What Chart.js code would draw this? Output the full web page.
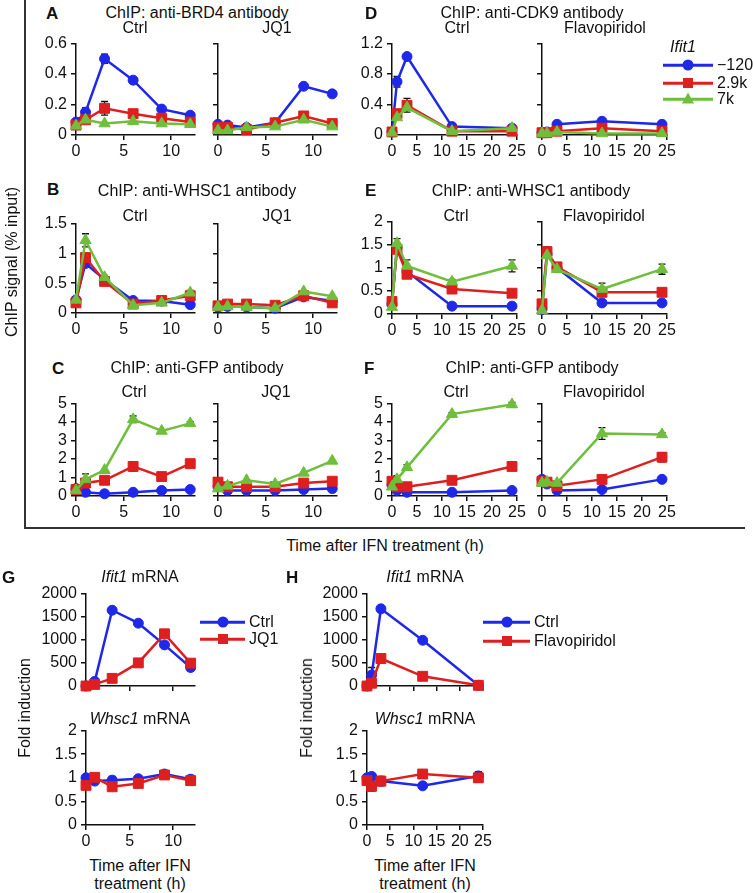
<!DOCTYPE html>
<html>
<head>
<meta charset="utf-8">
<script src="https://cdn.jsdelivr.net/npm/chart.js@4.4.1/dist/chart.umd.min.js"></script>
<style>
  body { margin: 0; background: #fff; font-family: "Liberation Sans", Arial, sans-serif; color: #111; }
  #fig { position: relative; width: 753px; height: 893px; overflow: hidden; }
  #fig canvas { position: absolute; }
  .t { position: absolute; font-size: 16px; white-space: nowrap; line-height: 1; transform: translate(-50%, -50%); }
  .lt { position: absolute; font-size: 16px; white-space: nowrap; line-height: 1; transform: translateY(-50%); }
  .big { position: absolute; font-size: 17px; font-weight: bold; line-height: 1; transform: translateY(-50%); }
  .rot { position: absolute; font-size: 16px; white-space: nowrap; line-height: 1; transform: translate(-50%, -50%) rotate(-90deg); }
  .line { position: absolute; height: 2.5px; transform: translateY(-50%); }
  .mk { position: absolute; transform: translate(-50%, -50%); }
</style>
</head>
<body>
<div id="fig"></div>
<script>
// time points (h)
const timesJQ1 = [0, 1, 3, 6, 9, 12];
const timesFlavo = [0, 1, 3, 12, 24];

// ChIP series, rows: -120, 2.9k, 7k
const brd4Ctrl = [[0.085, 0.15, 0.5, 0.36, 0.17, 0.13], [0.065, 0.1, 0.175, 0.14, 0.11, 0.085], [0.06, 0.1, 0.075, 0.09, 0.075, 0.07]];
const brd4CtrlErr = [[0, 0.03, 0.03, 0.01, 0, 0], [0, 0, 0.045, 0, 0, 0], [0, 0, 0, 0, 0, 0]];
const brd4JQ1 = [[0.07, 0.065, 0.05, 0.08, 0.32, 0.27], [0.05, 0.05, 0.035, 0.08, 0.125, 0.075], [0.03, 0.03, 0.05, 0.055, 0.1, 0.055]];

const cdk9Ctrl = [[0.04, 0.7, 1.03, 0.11, 0.09], [0.04, 0.28, 0.39, 0.05, 0.05], [0.03, 0.23, 0.36, 0.05, 0.09]];
const cdk9CtrlErr = [[0, 0.07, 0.03, 0, 0], [0, 0, 0.09, 0, 0], [0, 0, 0, 0, 0]];
const cdk9Flavo = [[0.03, 0.04, 0.14, 0.18, 0.14], [0.03, 0.03, 0.05, 0.09, 0.05], [0.02, 0.02, 0.04, 0.02, 0.02]];

const whscJQ1Ctrl = [[0.22, 0.83, 0.56, 0.21, 0.2, 0.14], [0.17, 0.93, 0.53, 0.15, 0.21, 0.29], [0.22, 1.22, 0.6, 0.13, 0.17, 0.34]];
const whscJQ1CtrlErr = [[0, 0, 0, 0, 0, 0], [0, 0.07, 0, 0, 0, 0], [0, 0.11, 0.03, 0, 0, 0.04]];
const whscJQ1 = [[0.1, 0.11, 0.1, 0.08, 0.27, 0.2], [0.12, 0.15, 0.15, 0.13, 0.29, 0.17], [0.1, 0.11, 0.1, 0.08, 0.36, 0.28]];

const whscFlCtrl = [[0.22, 1.45, 0.92, 0.17, 0.17], [0.27, 1.4, 0.86, 0.54, 0.45], [0.15, 1.53, 1.04, 0.7, 1.04]];
const whscFlCtrlErr = [[0, 0, 0, 0, 0], [0, 0, 0, 0, 0], [0, 0.1, 0.13, 0.05, 0.13]];
const whscFlavo = [[0.1, 1.3, 1.0, 0.24, 0.24], [0.22, 1.35, 1.02, 0.47, 0.47], [0.08, 1.27, 0.97, 0.54, 0.97]];
const whscFlavoErr = [[0, 0, 0, 0, 0], [0, 0.1, 0, 0, 0], [0, 0, 0, 0.13, 0.11]];

const gfpJQ1Ctrl = [[0.4, 0.2, 0.12, 0.2, 0.3, 0.35], [0.35, 0.7, 0.85, 1.6, 1.05, 1.75], [0.3, 0.9, 1.4, 4.15, 3.52, 3.93]];
const gfpJQ1CtrlErr = [[0, 0, 0, 0, 0, 0], [0, 0, 0, 0.25, 0, 0], [0, 0.3, 0, 0.18, 0, 0.1]];
const gfpJQ1 = [[0.5, 0.3, 0.3, 0.3, 0.35, 0.4], [0.75, 0.5, 0.5, 0.5, 0.7, 0.8], [0.4, 0.55, 0.85, 0.65, 1.25, 1.9]];

const gfpFlCtrl = [[0.6, 0.3, 0.2, 0.2, 0.3], [0.8, 0.5, 0.5, 0.85, 1.6], [0.5, 0.9, 1.55, 4.43, 4.95]];
const gfpFlCtrlErr = [[0, 0, 0, 0, 0], [0, 0, 0, 0, 0], [0, 0.2, 0.15, 0.08, 0.12]];
const gfpFlavo = [[0.9, 0.65, 0.3, 0.35, 0.9], [0.8, 0.75, 0.55, 0.9, 2.1], [0.7, 0.75, 0.7, 3.38, 3.33]];
const gfpFlavoErr = [[0, 0, 0, 0, 0], [0, 0, 0, 0, 0.25], [0, 0, 0, 0.32, 0.1]];

// mRNA fold induction, rows: Ctrl, treatment
const ifitJQ1 = [[0, 100, 1640, 1360, 890, 400], [0, 35, 165, 500, 1130, 495]];
const ifitJQ1Err = [[0, 0, 0, 0, 0, 70], [0, 0, 0, 0, 0, 0]];
const whscMrnaJQ1 = [[1.0, 0.93, 0.95, 0.98, 1.08, 0.97], [0.84, 1.01, 0.81, 0.88, 1.06, 0.94]];
const whscMrnaJQ1Err = [[0, 0, 0.08, 0, 0, 0.08], [0, 0, 0.07, 0, 0, 0.07]];
const ifitFlavo = [[0, 240, 1670, 990, 15], [0, 60, 595, 210, 15]];
const ifitFlavoErr = [[0, 160, 0, 0, 0], [0, 0, 0, 0, 0]];
const whscMrnaFlavo = [[1.0, 1.03, 0.93, 0.83, 1.04], [0.94, 0.82, 0.93, 1.08, 1.0]];
const whscMrnaFlavoErr = [[0, 0.05, 0, 0, 0.09], [0, 0.1, 0.1, 0, 0.09]];

const probeNames = ["\u2212120", "2.9k", "7k"];
const BLUE = "#1f28e8", RED = "#de1f1f", GREEN = "#6fbe3c";

Chart.defaults.font.family = '"Liberation Sans", Arial, sans-serif';
Chart.defaults.color = "#111";

const fig = document.getElementById("fig");

const errorBars = {
  id: "errorBars",
  beforeDatasetsDraw(chart) {
    const { ctx, scales: { x, y } } = chart;
    ctx.save();
    ctx.strokeStyle = "#111";
    ctx.lineWidth = 1.3;
    chart.data.datasets.forEach((ds) => {
      if (!ds.errors) return;
      ds.data.forEach((p, i) => {
        const e = ds.errors[i];
        if (!e) return;
        const px = x.getPixelForValue(p.x);
        const top = y.getPixelForValue(p.y + e);
        const bot = y.getPixelForValue(Math.max(0, p.y - e));
        ctx.beginPath();
        ctx.moveTo(px, top); ctx.lineTo(px, bot);
        ctx.moveTo(px - 3.5, top); ctx.lineTo(px + 3.5, top);
        ctx.moveTo(px - 3.5, bot); ctx.lineTo(px + 3.5, bot);
        ctx.stroke();
      });
    });
    ctx.restore();
  },
};

const PAD_T = 12, PAD_R = 16, AX_W = 52, AX_H = 30;
const fmt = (v) => String(+v.toFixed(2));

function panel(o) {
  const c = document.createElement("canvas");
  const cw = AX_W + o.w + PAD_R, ch = PAD_T + o.h + AX_H;
  c.width = cw; c.height = ch;
  c.style.left = o.left - AX_W + "px";
  c.style.top = o.top - PAD_T + "px";
  fig.appendChild(c);

  const styles = o.styles || ["circle", "rect", "triangle"];
  const colors = o.colors || [BLUE, RED, GREEN];
  const radii = { circle: 5, rect: 7, triangle: 6.5 };

  new Chart(c, {
    type: "line",
    data: {
      datasets: o.series.map((vals, k) => ({
        label: o.names[k],
        data: vals.map((v, i) => ({ x: o.times[i], y: v })),
        errors: o.errs ? o.errs[k] : null,
        borderColor: colors[k],
        backgroundColor: colors[k],
        pointBackgroundColor: colors[k],
        pointBorderColor: colors[k],
        borderWidth: 2.5,
        pointStyle: styles[k],
        pointRadius: radii[styles[k]],
        pointBorderWidth: 1,
        tension: 0,
        clip: false,
        order: o.series.length - k,
      })),
    },
    options: {
      responsive: false,
      animation: false,
      events: [],
      layout: { padding: { top: PAD_T, right: PAD_R, left: 0, bottom: 0 } },
      plugins: { legend: { display: false }, tooltip: { enabled: false } },
      scales: {
        x: {
          type: "linear", min: 0, max: o.xMax,
          afterFit: (s) => { s.height = AX_H; },
          border: { display: true, color: "#111", width: 1.5 },
          grid: { drawOnChartArea: false, drawTicks: true, tickLength: 5, color: "#111", lineWidth: 1.5 },
          ticks: {
            stepSize: 5, includeBounds: false, padding: 2, maxRotation: 0, autoSkip: false,
            font: { size: 16 },
            callback: (v) => (o.xLabels === false ? "" : fmt(v)),
          },
        },
        y: {
          min: 0, max: o.yMax,
          afterFit: (s) => { s.width = AX_W; },
          border: { display: true, color: "#111", width: 1.5 },
          grid: { drawOnChartArea: false, drawTicks: true, tickLength: 5, color: "#111", lineWidth: 1.5 },
          ticks: {
            stepSize: o.yStep, includeBounds: false, padding: 4, autoSkip: false,
            font: { size: 16 },
            callback: (v) => (o.yLabels === false ? "" : fmt(v)),
          },
        },
      },
    },
    plugins: [errorBars],
  });
}

// A
panel({ left: 76, top: 42, w: 119, h: 93, xMax: 12.5, yMax: 0.6, yStep: 0.2, times: timesJQ1, series: brd4Ctrl, errs: brd4CtrlErr, names: probeNames });
panel({ left: 218, top: 42, w: 119, h: 93, xMax: 12.5, yMax: 0.6, yStep: 0.2, times: timesJQ1, series: brd4JQ1, names: probeNames, yLabels: false });
// D
panel({ left: 392, top: 42, w: 125, h: 93, xMax: 25, yMax: 1.2, yStep: 0.4, times: timesFlavo, series: cdk9Ctrl, errs: cdk9CtrlErr, names: probeNames });
panel({ left: 542, top: 42, w: 125, h: 93, xMax: 25, yMax: 1.2, yStep: 0.4, times: timesFlavo, series: cdk9Flavo, names: probeNames, yLabels: false });
// B
panel({ left: 76, top: 222, w: 119, h: 91, xMax: 12.5, yMax: 1.5, yStep: 0.5, times: timesJQ1, series: whscJQ1Ctrl, errs: whscJQ1CtrlErr, names: probeNames });
panel({ left: 218, top: 222, w: 119, h: 91, xMax: 12.5, yMax: 1.5, yStep: 0.5, times: timesJQ1, series: whscJQ1, names: probeNames, yLabels: false });
// E
panel({ left: 392, top: 220, w: 125, h: 94, xMax: 25, yMax: 2, yStep: 0.5, times: timesFlavo, series: whscFlCtrl, errs: whscFlCtrlErr, names: probeNames });
panel({ left: 542, top: 220, w: 125, h: 94, xMax: 25, yMax: 2, yStep: 0.5, times: timesFlavo, series: whscFlavo, errs: whscFlavoErr, names: probeNames, yLabels: false });
// C
panel({ left: 76, top: 402, w: 119, h: 94, xMax: 12.5, yMax: 5, yStep: 1, times: timesJQ1, series: gfpJQ1Ctrl, errs: gfpJQ1CtrlErr, names: probeNames });
panel({ left: 218, top: 402, w: 119, h: 94, xMax: 12.5, yMax: 5, yStep: 1, times: timesJQ1, series: gfpJQ1, names: probeNames, yLabels: false });
// F
panel({ left: 392, top: 402, w: 125, h: 94, xMax: 25, yMax: 5, yStep: 1, times: timesFlavo, series: gfpFlCtrl, errs: gfpFlCtrlErr, names: probeNames });
panel({ left: 542, top: 402, w: 125, h: 94, xMax: 25, yMax: 5, yStep: 1, times: timesFlavo, series: gfpFlavo, errs: gfpFlavoErr, names: probeNames, yLabels: false });
// G
panel({ left: 86, top: 592, w: 109, h: 94, xMax: 12.5, yMax: 2000, yStep: 500, times: timesJQ1, series: ifitJQ1, errs: ifitJQ1Err, names: ["Ctrl", "JQ1"], styles: ["circle", "rect"], colors: [BLUE, RED], xLabels: false });
panel({ left: 86, top: 729, w: 109, h: 96, xMax: 12.5, yMax: 2, yStep: 0.5, times: timesJQ1, series: whscMrnaJQ1, errs: whscMrnaJQ1Err, names: ["Ctrl", "JQ1"], styles: ["circle", "rect"], colors: [BLUE, RED] });
// H
panel({ left: 367, top: 592, w: 116, h: 94, xMax: 25, yMax: 2000, yStep: 500, times: timesFlavo, series: ifitFlavo, errs: ifitFlavoErr, names: ["Ctrl", "Flavopiridol"], styles: ["circle", "rect"], colors: [BLUE, RED], xLabels: false });
panel({ left: 367, top: 729, w: 116, h: 96, xMax: 25, yMax: 2, yStep: 0.5, times: timesFlavo, series: whscMrnaFlavo, errs: whscMrnaFlavoErr, names: ["Ctrl", "Flavopiridol"], styles: ["circle", "rect"], colors: [BLUE, RED] });

// text and frame
function txt(cls, x, y, html) {
  const d = document.createElement("div");
  d.className = cls;
  d.style.left = x + "px";
  d.style.top = y + "px";
  d.innerHTML = html;
  fig.appendChild(d);
}
function box(x, y, w, h, color) {
  const d = document.createElement("div");
  d.style.cssText = `position:absolute;left:${x}px;top:${y}px;width:${w}px;height:${h}px;background:${color}`;
  fig.appendChild(d);
}

box(24, 0, 2, 529, "#333");
box(24, 527, 721, 2, "#333");
txt("rot", 12, 262, "ChIP signal (% input)");
txt("t", 385, 546, "Time after IFN treatment (h)");

txt("big", 46, 13, "A"); txt("t", 197, 13, "ChIP: anti-BRD4 antibody");
txt("t", 135, 28, "Ctrl"); txt("t", 277, 28, "JQ1");
txt("big", 365, 13, "D"); txt("t", 532, 13, "ChIP: anti-CDK9 antibody");
txt("t", 457, 28, "Ctrl"); txt("t", 605, 28, "Flavopiridol");
txt("big", 47, 189, "B"); txt("t", 197, 191, "ChIP: anti-WHSC1 antibody");
txt("t", 135, 216, "Ctrl"); txt("t", 277, 216, "JQ1");
txt("big", 365, 190, "E"); txt("t", 531, 191, "ChIP: anti-WHSC1 antibody");
txt("t", 456, 216, "Ctrl"); txt("t", 604, 216, "Flavopiridol");
txt("big", 52, 368, "C"); txt("t", 197, 368, "ChIP: anti-GFP antibody");
txt("t", 134, 392, "Ctrl"); txt("t", 276, 392, "JQ1");
txt("big", 364, 368, "F"); txt("t", 532, 368, "ChIP: anti-GFP antibody");
txt("t", 456, 392, "Ctrl"); txt("t", 604, 392, "Flavopiridol");

txt("big", 2, 577, "G"); txt("t", 140, 577, "<i>Ifit1</i> mRNA");
txt("t", 140, 719, "<i>Whsc1</i> mRNA");
txt("rot", 25, 708, "Fold induction");
txt("t", 140, 866, "Time after IFN"); txt("t", 140, 884, "treatment (h)");
txt("big", 286, 577, "H"); txt("t", 425, 577, "<i>Ifit1</i> mRNA");
txt("t", 425, 719, "<i>Whsc1</i> mRNA");
txt("rot", 307, 708, "Fold induction");
txt("t", 425, 866, "Time after IFN"); txt("t", 425, 884, "treatment (h)");

// legends
function legendRow(x0, x1, y, color, shape, label) {
  const l = document.createElement("div");
  l.className = "line";
  l.style.cssText += `left:${x0}px;top:${y}px;width:${x1 - x0}px;background:${color}`;
  fig.appendChild(l);
  const m = document.createElement("div");
  m.className = "mk";
  const cx = (x0 + x1) / 2;
  if (shape === "circle") m.style.cssText += `left:${cx}px;top:${y}px;width:11px;height:11px;border-radius:50%;background:${color}`;
  if (shape === "rect") m.style.cssText += `left:${cx}px;top:${y}px;width:10px;height:10px;background:${color}`;
  if (shape === "triangle") m.style.cssText += `left:${cx}px;top:${y - 1}px;width:0;height:0;border-left:6.5px solid transparent;border-right:6.5px solid transparent;border-bottom:11px solid ${color}`;
  fig.appendChild(m);
  txt("lt", x1 + 4, y, label);
}
txt("lt", 670, 47, "<i>Ifit1</i>");
legendRow(663, 713, 65, BLUE, "circle", probeNames[0]);
legendRow(663, 713, 83, RED, "rect", probeNames[1]);
legendRow(663, 713, 99, GREEN, "triangle", probeNames[2]);

legendRow(200, 245, 622, BLUE, "circle", "Ctrl");
legendRow(200, 245, 639, RED, "rect", "JQ1");
legendRow(483, 530, 622, BLUE, "circle", "Ctrl");
legendRow(483, 530, 641, RED, "rect", "Flavopiridol");
</script>
</body>
</html>
